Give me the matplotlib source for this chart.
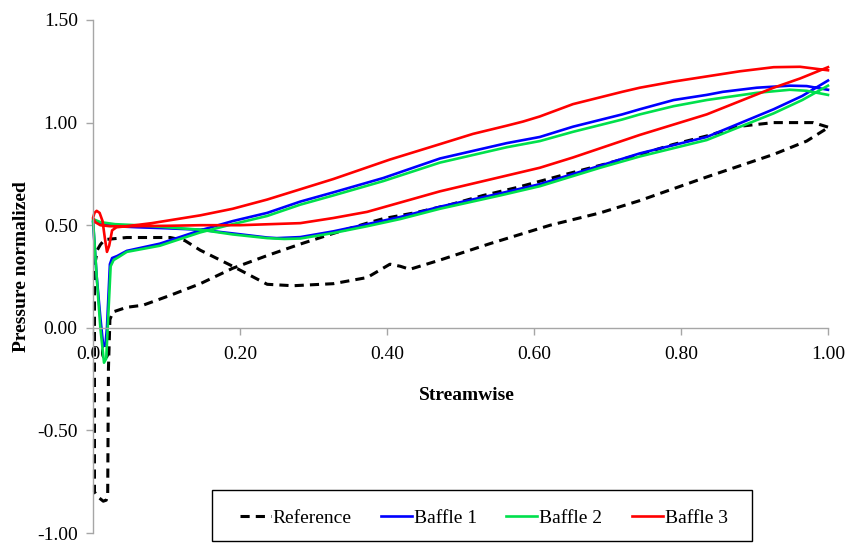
import matplotlib
matplotlib.use("Agg")
import matplotlib.pyplot as plt
from matplotlib.patches import Rectangle

plt.rcParams['font.family'] = ['Liberation Serif', 'DejaVu Serif']

# Streamwise position / normalized pressure, each series traced as a closed loop
ref_x = [1.000, 0.980, 0.926, 0.880, 0.835, 0.790, 0.744, 0.699, 0.640, 0.576, 0.531, 0.486,
         0.440, 0.395, 0.373, 0.327, 0.282, 0.237, 0.190, 0.146, 0.105, 0.068, 0.046, 0.027,
         0.023, 0.021, 0.020, 0.018, 0.014, 0.007, 0.002, 0.002, 0.006, 0.010, 0.016, 0.046,
         0.105, 0.125, 0.146, 0.190, 0.237, 0.272, 0.327, 0.373, 0.404, 0.418, 0.431, 0.472,
         0.540, 0.622, 0.690, 0.744, 0.835, 0.926, 0.971, 1.000]
ref_y = [0.978, 1.000, 1.000, 0.982, 0.935, 0.894, 0.845, 0.800, 0.745, 0.683, 0.645, 0.600,
         0.562, 0.532, 0.510, 0.460, 0.408, 0.352, 0.290, 0.215, 0.158, 0.110, 0.100, 0.077,
         0.040, -0.200, -0.810, -0.840, -0.845, -0.825, -0.800, 0.300, 0.380, 0.405, 0.430, 0.440,
         0.440, 0.425, 0.378, 0.300, 0.212, 0.205, 0.215, 0.245, 0.310, 0.300, 0.285, 0.330,
         0.410, 0.500, 0.560, 0.620, 0.735, 0.845, 0.910, 0.975]

b1_x = [1.000, 0.965, 0.926, 0.835, 0.744, 0.690, 0.608, 0.554, 0.472, 0.418, 0.373, 0.327,
        0.282, 0.250, 0.237, 0.190, 0.146, 0.100, 0.060, 0.030, 0.010, 0.000,
        0.005, 0.010, 0.014, 0.017, 0.019, 0.023, 0.026, 0.033, 0.046, 0.091, 0.146, 0.190,
        0.237, 0.282, 0.327, 0.395, 0.472, 0.563, 0.608, 0.653, 0.720, 0.744, 0.790, 0.835,
        0.857, 0.903, 0.948, 0.971, 1.000]
b1_y = [1.205, 1.130, 1.065, 0.930, 0.850, 0.790, 0.700, 0.655, 0.590, 0.540, 0.505, 0.470,
        0.442, 0.437, 0.440, 0.460, 0.478, 0.485, 0.490, 0.495, 0.510, 0.520,
        0.250, 0.050, -0.090, -0.080, 0.000, 0.310, 0.340, 0.350, 0.375, 0.410, 0.475, 0.520,
        0.560, 0.615, 0.660, 0.730, 0.825, 0.900, 0.930, 0.980, 1.040, 1.065, 1.110, 1.135,
        1.150, 1.170, 1.180, 1.178, 1.160]

b2_x = [1.000, 0.965, 0.926, 0.835, 0.744, 0.690, 0.608, 0.554, 0.472, 0.418, 0.373, 0.327,
        0.282, 0.260, 0.237, 0.190, 0.146, 0.100, 0.060, 0.030, 0.010, 0.000,
        0.005, 0.010, 0.015, 0.018, 0.020, 0.024, 0.028, 0.035, 0.046, 0.091, 0.146, 0.190,
        0.237, 0.282, 0.327, 0.395, 0.472, 0.563, 0.608, 0.653, 0.720, 0.744, 0.790, 0.835,
        0.903, 0.948, 0.971, 1.000]
b2_y = [1.180, 1.110, 1.045, 0.915, 0.835, 0.780, 0.690, 0.645, 0.580, 0.530, 0.495, 0.462,
        0.435, 0.433, 0.437, 0.455, 0.478, 0.490, 0.500, 0.505, 0.515, 0.530,
        0.250, 0.000, -0.170, -0.150, 0.000, 0.300, 0.330, 0.345, 0.370, 0.400, 0.465, 0.505,
        0.545, 0.600, 0.645, 0.715, 0.805, 0.880, 0.910, 0.955, 1.015, 1.040, 1.080, 1.110,
        1.145, 1.160, 1.155, 1.135]

b3_x = [1.000, 0.962, 0.926, 0.835, 0.744, 0.653, 0.608, 0.472, 0.373, 0.327, 0.282, 0.200,
        0.146, 0.100, 0.050, 0.023, 0.010, 0.003, 0.000, 0.002, 0.005, 0.009, 0.013, 0.016,
        0.019, 0.022, 0.026, 0.032, 0.046, 0.080, 0.146, 0.190, 0.237, 0.282, 0.327, 0.404,
        0.472, 0.517, 0.563, 0.585, 0.608, 0.653, 0.720, 0.744, 0.790, 0.835, 0.880, 0.926,
        0.962, 1.000]
b3_y = [1.270, 1.215, 1.170, 1.040, 0.940, 0.830, 0.780, 0.665, 0.565, 0.535, 0.510, 0.500,
        0.500, 0.497, 0.495, 0.495, 0.500, 0.515, 0.535, 0.560, 0.570, 0.560, 0.520, 0.440,
        0.370, 0.400, 0.475, 0.490, 0.495, 0.510, 0.548, 0.580, 0.625, 0.675, 0.725, 0.820,
        0.895, 0.945, 0.985, 1.005, 1.030, 1.090, 1.150, 1.170, 1.200, 1.225, 1.250, 1.270,
        1.272, 1.255]

series_names = ["Reference", "Baffle 1", "Baffle 2", "Baffle 3"]
x_ticks = [0.0, 0.2, 0.4, 0.6, 0.8, 1.0]
y_ticks = [-1.0, -0.5, 0.0, 0.5, 1.0, 1.5]

fig = plt.figure(figsize=(8.48, 5.45), dpi=100)
ax = fig.add_axes([93 / 848, 12 / 545, 735 / 848, 513 / 545])

handles = []
h, = ax.plot(ref_x, ref_y, color="black", lw=2.2, linestyle=(0, (3.0, 2.0)),
             label=series_names[0], clip_on=False)
handles.append(h)
for xs, ys, col, name in [(b1_x, b1_y, "#0000FF", series_names[1]),
                          (b2_x, b2_y, "#00E04C", series_names[2]),
                          (b3_x, b3_y, "#FF0000", series_names[3])]:
    h, = ax.plot(xs, ys, color=col, lw=1.9, label=name, clip_on=False,
                 solid_joinstyle="round")
    handles.append(h)

ax.set_xlim(0, 1)
ax.set_ylim(-1.0, 1.5)
ax.set_xticks(x_ticks)
ax.set_yticks(y_ticks)
ax.set_xticklabels([f"{v:.2f}" for v in x_ticks])
ax.set_yticklabels([f"{v:.2f}" for v in y_ticks])

axis_grey = "#A6A6A6"
for side in ("top", "right"):
    ax.spines[side].set_visible(False)
ax.spines["bottom"].set_position(("data", 0.0))
for side in ("left", "bottom"):
    ax.spines[side].set_color(axis_grey)
    ax.spines[side].set_linewidth(1.0)
ax.tick_params(axis="both", direction="out", length=5, width=1.0, color=axis_grey,
               labelsize=14, labelcolor="black")
ax.tick_params(axis="y", pad=6)
ax.tick_params(axis="x", pad=8)
ax.patch.set_alpha(0)

fig.text(467 / 848, (545 - 395) / 545, "Streamwise", ha="center", va="center",
         fontsize=14, fontweight="bold")
fig.text(22 / 848, (545 - 267) / 545, "Pressure normalized", ha="center", va="center",
         rotation=90, fontsize=14, fontweight="bold")

# Legend: framed box along the bottom edge
fig.patches.append(Rectangle((212 / 848, 4 / 545), 540 / 848, 51 / 545,
                             transform=fig.transFigure, facecolor="white",
                             edgecolor="black", lw=1.0, zorder=5))
leg = fig.legend(handles=handles, loc="center left",
                 bbox_to_anchor=(232 / 848, (545 - 518) / 545), ncol=4, frameon=False,
                 fontsize=14, handlelength=1.6, handletextpad=0.1, columnspacing=1.5,
                 borderaxespad=0)
leg.set_zorder(6)

fig.savefig("out.png", dpi=100)
